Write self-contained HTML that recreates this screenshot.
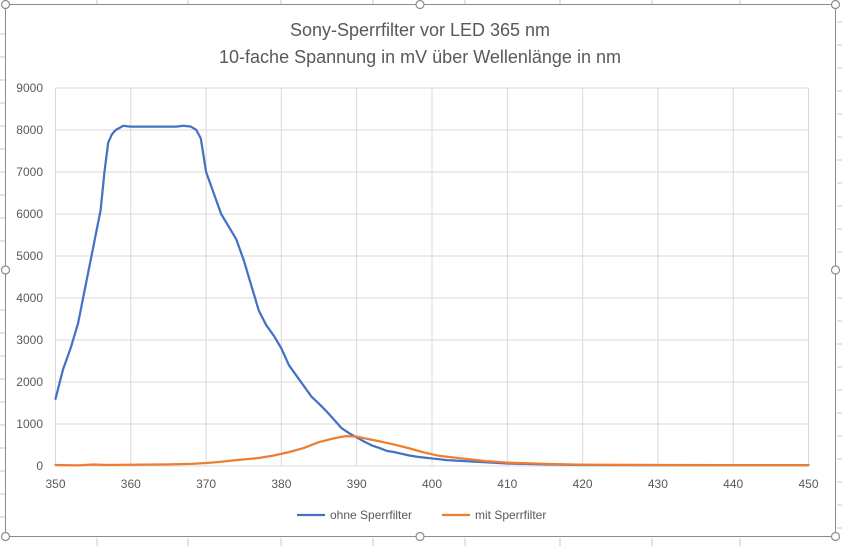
<!DOCTYPE html>
<html><head><meta charset="utf-8"><style>
html,body{margin:0;padding:0;background:#fff;}
svg{display:block;font-family:"Liberation Sans",sans-serif;}
</style></head><body>
<svg width="842" height="546" viewBox="0 0 842 546" xmlns="http://www.w3.org/2000/svg">
<g stroke="#c8c8c8" stroke-width="1">
<line x1="0" y1="34" x2="5" y2="34"/><line x1="0" y1="57" x2="5" y2="57"/><line x1="0" y1="80" x2="5" y2="80"/><line x1="0" y1="103" x2="5" y2="103"/><line x1="0" y1="126" x2="5" y2="126"/><line x1="0" y1="149" x2="5" y2="149"/><line x1="0" y1="172" x2="5" y2="172"/><line x1="0" y1="195" x2="5" y2="195"/><line x1="0" y1="218" x2="5" y2="218"/><line x1="0" y1="241" x2="5" y2="241"/><line x1="0" y1="310" x2="5" y2="310"/><line x1="0" y1="333" x2="5" y2="333"/><line x1="0" y1="356" x2="5" y2="356"/><line x1="0" y1="379" x2="5" y2="379"/><line x1="0" y1="402" x2="5" y2="402"/><line x1="0" y1="425" x2="5" y2="425"/><line x1="0" y1="448" x2="5" y2="448"/><line x1="0" y1="471" x2="5" y2="471"/><line x1="0" y1="494" x2="5" y2="494"/><line x1="0" y1="517" x2="5" y2="517"/>
<line x1="837" y1="22" x2="842" y2="22"/><line x1="837" y1="45" x2="842" y2="45"/><line x1="837" y1="68" x2="842" y2="68"/><line x1="837" y1="91" x2="842" y2="91"/><line x1="837" y1="114" x2="842" y2="114"/><line x1="837" y1="137" x2="842" y2="137"/><line x1="837" y1="160" x2="842" y2="160"/><line x1="837" y1="183" x2="842" y2="183"/><line x1="837" y1="206" x2="842" y2="206"/><line x1="837" y1="229" x2="842" y2="229"/><line x1="837" y1="252" x2="842" y2="252"/><line x1="837" y1="298" x2="842" y2="298"/><line x1="837" y1="321" x2="842" y2="321"/><line x1="837" y1="344" x2="842" y2="344"/><line x1="837" y1="367" x2="842" y2="367"/><line x1="837" y1="390" x2="842" y2="390"/><line x1="837" y1="413" x2="842" y2="413"/><line x1="837" y1="436" x2="842" y2="436"/><line x1="837" y1="459" x2="842" y2="459"/><line x1="837" y1="482" x2="842" y2="482"/><line x1="837" y1="505" x2="842" y2="505"/><line x1="837" y1="528" x2="842" y2="528"/>
<line x1="97" y1="538" x2="97" y2="546"/><line x1="188" y1="538" x2="188" y2="546"/><line x1="281" y1="538" x2="281" y2="546"/><line x1="373" y1="538" x2="373" y2="546"/><line x1="465" y1="538" x2="465" y2="546"/><line x1="560" y1="538" x2="560" y2="546"/><line x1="652" y1="538" x2="652" y2="546"/><line x1="740" y1="538" x2="740" y2="546"/>
<line x1="97" y1="0" x2="97" y2="4"/><line x1="188" y1="0" x2="188" y2="4"/><line x1="281" y1="0" x2="281" y2="4"/><line x1="373" y1="0" x2="373" y2="4"/><line x1="465" y1="0" x2="465" y2="4"/><line x1="560" y1="0" x2="560" y2="4"/><line x1="652" y1="0" x2="652" y2="4"/><line x1="740" y1="0" x2="740" y2="4"/>
</g>
<rect x="5.5" y="4.5" width="830" height="532" fill="#fff" stroke="#8c8c8c" stroke-width="1"/>
<text x="420" y="36" text-anchor="middle" font-size="18" fill="#595959">Sony-Sperrfilter vor LED 365 nm</text>
<text x="420" y="63" text-anchor="middle" font-size="18" fill="#595959">10-fache Spannung in mV über Wellenlänge in nm</text>
<g stroke="#d9d9d9" stroke-width="1">
<line x1="55.5" y1="88" x2="808.5" y2="88"/><line x1="55.5" y1="130" x2="808.5" y2="130"/><line x1="55.5" y1="172" x2="808.5" y2="172"/><line x1="55.5" y1="214" x2="808.5" y2="214"/><line x1="55.5" y1="256" x2="808.5" y2="256"/><line x1="55.5" y1="298" x2="808.5" y2="298"/><line x1="55.5" y1="340" x2="808.5" y2="340"/><line x1="55.5" y1="382" x2="808.5" y2="382"/><line x1="55.5" y1="424" x2="808.5" y2="424"/><line x1="55.5" y1="466" x2="808.5" y2="466"/>
<line x1="55.5" y1="88" x2="55.5" y2="466"/><line x1="130.8" y1="88" x2="130.8" y2="466"/><line x1="206.1" y1="88" x2="206.1" y2="466"/><line x1="281.4" y1="88" x2="281.4" y2="466"/><line x1="356.7" y1="88" x2="356.7" y2="466"/><line x1="432" y1="88" x2="432" y2="466"/><line x1="507.3" y1="88" x2="507.3" y2="466"/><line x1="582.6" y1="88" x2="582.6" y2="466"/><line x1="657.9" y1="88" x2="657.9" y2="466"/><line x1="733.2" y1="88" x2="733.2" y2="466"/><line x1="808.5" y1="88" x2="808.5" y2="466"/>
</g>
<g font-size="12" fill="#595959" text-anchor="end">
<text x="43" y="92">9000</text><text x="43" y="134">8000</text><text x="43" y="176">7000</text><text x="43" y="218">6000</text><text x="43" y="260">5000</text><text x="43" y="302">4000</text><text x="43" y="344">3000</text><text x="43" y="386">2000</text><text x="43" y="428">1000</text><text x="43" y="470">0</text>
</g>
<g font-size="12" fill="#595959" text-anchor="middle">
<text x="55.5" y="488">350</text><text x="130.8" y="488">360</text><text x="206.1" y="488">370</text><text x="281.4" y="488">380</text><text x="356.7" y="488">390</text><text x="432" y="488">400</text><text x="507.3" y="488">410</text><text x="582.6" y="488">420</text><text x="657.9" y="488">430</text><text x="733.2" y="488">440</text><text x="808.5" y="488">450</text>
</g>
<g transform="translate(55.5,466) scale(7.53,-0.042)" fill="none" stroke-linejoin="round" stroke-linecap="round">
<polyline vector-effect="non-scaling-stroke" stroke="#4472C4" stroke-width="2.25" points="0,1600 1,2300 2,2800 3,3400 4,4300 5,5200 6,6100 6.5,7000 7,7700 7.5,7900 8,8000 9,8100 10,8080 12,8080 14,8080 16,8080 17,8100 18,8080 18.7,8000 19.3,7800 20,7000 21,6500 22,6000 23,5700 24,5400 25,4900 26,4300 27,3700 28,3350 29,3100 30,2800 31,2400 32,2150 33,1900 34,1650 35,1480 36,1300 37,1100 38,900 39,780 40,680 41,580 42,490 43,430 44,360 45,330 46,290 47,250 48,220 49,200 50,180 52,140 55,110 58,80 60,60 65,40 70,25 80,20 90,20 100,20"/>
<polyline vector-effect="non-scaling-stroke" stroke="#ED7D31" stroke-width="2.25" points="0,25 3,15 5,35 7,25 10,30 15,40 18,50 20,70 22,100 24,140 27,190 29,250 31,330 33,430 35,570 37,660 38.5,710 40,700 41,660 43,590 45,510 47,420 49,320 51,240 54,180 57,120 60,80 65,50 70,30 80,25 90,20 100,20"/>
</g>
<line x1="297" y1="515" x2="325" y2="515" stroke="#4472C4" stroke-width="2.25"/>
<text x="330" y="519" font-size="12" fill="#595959">ohne Sperrfilter</text>
<line x1="442" y1="515" x2="470" y2="515" stroke="#ED7D31" stroke-width="2.25"/>
<text x="475" y="519" font-size="12" fill="#595959">mit Sperrfilter</text>
<g fill="#fff" stroke="#8c8c8c" stroke-width="1.2">
<circle cx="5.5" cy="4.5" r="4"/><circle cx="420" cy="4.5" r="4"/><circle cx="835.5" cy="4.5" r="4"/>
<circle cx="5.5" cy="270" r="4"/><circle cx="835.5" cy="270" r="4"/>
<circle cx="5.5" cy="536.5" r="4"/><circle cx="420" cy="536.5" r="4"/><circle cx="835.5" cy="536.5" r="4"/>
</g>
</svg>
</body></html>
